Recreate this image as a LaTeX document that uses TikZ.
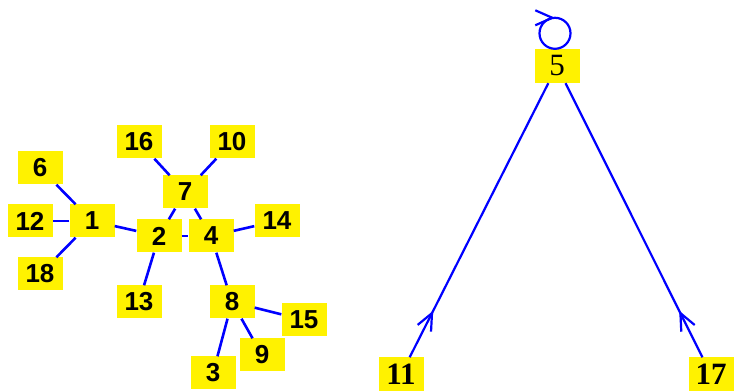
\documentclass[tikz,border=0pt]{standalone}
\usepackage{fontspec}
\usepackage{tikz}
\usetikzlibrary{arrows.meta,calc,decorations.markings}
\newfontfamily\vertfont{Liberation Sans}
\newfontfamily\rootfont{Liberation Serif}
\tikzset{
  vert/.style={fill=yellow, inner sep=0pt, minimum width=45pt, minimum height=33pt,
    font=\vertfont\bfseries\fontsize{26}{26}\selectfont},
  rvert/.style={vert, minimum height=34pt, font=\rootfont\fontsize{31}{31}\selectfont},
  link/.style={blue, line width=2.6pt},
  dlink/.style={blue, line width=2.2pt, postaction={decorate},
    decoration={markings, mark=at position #1 with {\arrow{Straight Barb[length=17pt,width=15pt]}}}},
}

\begin{document}
\begin{tikzpicture}[x=1pt,y=1pt]
        \useasboundingbox (0,0) rectangle (734,391);
        % Left component
        \node[vert] (n1) at (92,170) {1};
        \node[vert] (n6) at (40,223) {6};
        \node[vert] (n12) at (30,170) {12};
        \node[vert] (n18) at (40,117) {18};
        \node[vert] (n2) at (159,155) {2};
        \node[vert] (n13) at (139,89) {13};
        \node[vert] (n7) at (185,199) {7};
        \node[vert] (n16) at (139,249) {16};
        \node[vert] (n10) at (232,249) {10};
        \node[vert] (n4) at (211,155) {4};
        \node[vert] (n14) at (277,170) {14};
        \node[vert] (n8) at (232,89) {8};
        \node[vert] (n15) at (304,71) {15};
        \node[vert] (n9) at (262,36) {9};
        \node[vert] (n3) at (213,18) {3};
        \foreach \a/\b in {n1/n6, n1/n12, n1/n18, n1/n2, n2/n13, n2/n7, n2/n4,
                           n7/n16, n7/n10, n7/n4, n4/n14, n4/n8, n8/n15, n8/n9, n8/n3} {
            \draw[link] (\a) -- (\b);
          }
        % Right component
        \node[rvert] (n5) at (557,325) {5};
        \node[rvert, font=\rootfont\bfseries\fontsize{31}{31}\selectfont] (n11) at (401,16.5) {11};
        \node[rvert, font=\rootfont\bfseries\fontsize{31}{31}\selectfont] (n17) at (711,16.5) {17};
        \draw[dlink=0.17] (n11) -- (n5);
        \draw[dlink=0.17] (n17) -- (n5);
        % Self loop on 5
        \draw[dlink=0.5] ($(n5.north)+(-2,0)$) arc[start angle=-90, delta angle=-360, radius=15.5pt];
      \end{tikzpicture}
\end{document}
